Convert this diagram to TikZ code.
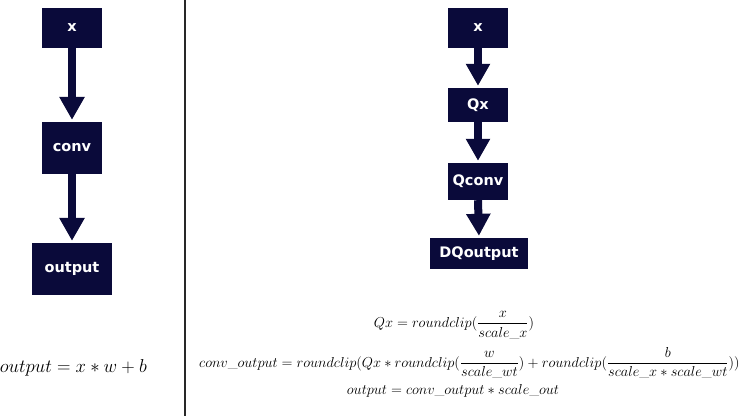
\documentclass[tikz,border=0pt]{standalone}
\usepackage{fontspec}
\usepackage{amsmath}
\newfontfamily\boxfont{DejaVu Sans}
\usetikzlibrary{arrows.meta}
\definecolor{navy}{RGB}{10,10,58}
\definecolor{rule}{RGB}{40,40,40}
\tikzset{
  blk/.style={fill=navy, draw=none, inner sep=0pt, text=white,
    font=\boxfont\bfseries\fontsize{14.5}{16}\selectfont},
  flow/.style={draw=navy, line width=8pt,
    -{Triangle[width=24pt,length=23pt]}, shorten >=2pt},
  flowR/.style={draw=navy, line width=8pt,
    -{Triangle[width=23pt,length=22pt]}, shorten >=2pt},
  eqL/.style={inner sep=0pt, font=\fontsize{18.6}{21}\selectfont},
  eqR/.style={inner sep=0pt, font=\fontsize{13.4}{15}\selectfont},
}
\begin{document}
\begin{tikzpicture}[x=1pt,y=-1pt]
\useasboundingbox (0,0) rectangle (740,416);
\fill[white] (0,0) rectangle (740,416);
% divider
\coordinate (top) at (185,0);
\coordinate (bot) at (185,416);
\draw[rule, line width=1.3pt] (top) -- (bot);
% left chain
\node[blk, minimum width=60pt, minimum height=40pt] (lx) at (72,28) {x};
\node[blk, minimum width=60pt, minimum height=52pt] (lconv) at (72,148) {conv};
\node[blk, minimum width=80pt, minimum height=52pt] (lout) at (72,269) {output};
\draw[flow] (lx.south) -- (lconv.north);
\draw[flow] (lconv.south) -- (lout.north);
% right chain
\node[blk, minimum width=60pt, minimum height=40pt] (rx) at (478,28) {x};
\node[blk, minimum width=60pt, minimum height=34pt] (rqx) at (478,105) {Qx};
\node[blk, minimum width=60pt, minimum height=37pt] (rqc) at (478,181.5) {Qconv};
\node[blk, minimum width=98pt, minimum height=31pt] (rdq) at (479,253.5) {DQoutput};
\draw[flowR] (rx.south) -- (rqx.north);
\draw[flowR] (rqx.south) -- (rqc.north);
\draw[flowR] (rqc.south) -- (rdq.north);
% formulas
\node[eqL, anchor=base east] (fl) at (147,372) {\scalebox{1.08}{$output = x * w + b$}};
\node[eqR] (f1) at (454,325) {$\displaystyle Qx = roundclip(\frac{x}{scale\_x})$};
\node[eqR, anchor=west] (f2) at (199,363) {$\displaystyle conv\_output = roundclip(Qx * roundclip(\frac{w}{scale\_wt}) + roundclip(\frac{b}{scale\_x * scale\_wt}))$};
\node[eqR] (f3) at (453,391) {$output = conv\_output * scale\_out$};
\end{tikzpicture}
\end{document}
